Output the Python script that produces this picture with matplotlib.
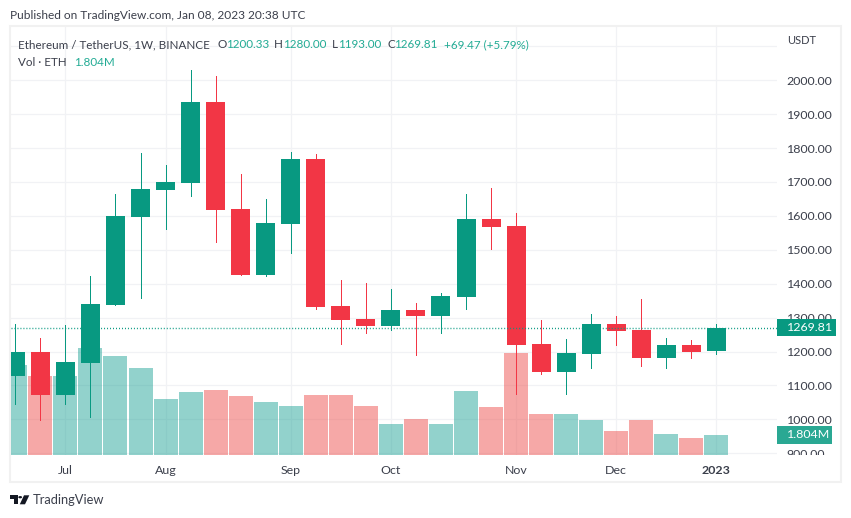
import matplotlib
matplotlib.use("Agg")
from matplotlib import pyplot as plt
from matplotlib.patches import Rectangle, Polygon, Circle
from matplotlib.transforms import Bbox, blended_transform_factory

# weekly candles
opens = [1128, 1199, 1072, 1167, 1337, 1598, 1677, 1697, 1936, 1620, 1426, 1576, 1768, 1335, 1296,
         1276, 1323, 1305, 1361, 1591, 1570, 1222, 1140, 1193, 1281, 1264, 1181, 1219, 1200.33]
highs = [1281, 1240, 1278, 1423, 1665, 1786, 1750, 2030, 2012, 1724, 1650, 1789, 1783, 1411, 1402,
         1385, 1343, 1373, 1665, 1682, 1609, 1293, 1237, 1311, 1305, 1356, 1240, 1234, 1280]
lows = [1045, 998, 1045, 1008, 1337, 1358, 1561, 1659, 1523, 1426, 1423, 1491, 1326, 1222, 1255,
        1264, 1190, 1255, 1326, 1503, 1075, 1134, 1075, 1152, 1219, 1158, 1152, 1181, 1193]
closes = [1199, 1072, 1169, 1340, 1600, 1679, 1700, 1936, 1618, 1426, 1579, 1768, 1332, 1293, 1276,
          1323, 1305, 1364, 1591, 1567, 1219, 1140, 1196, 1281, 1261, 1181, 1219, 1199, 1269.81]
# volume in millions of ETH
volumes = [8.1, 7.1, 7.1, 9.65, 8.9, 7.85, 5.05, 5.7, 5.85, 5.3, 4.8, 4.4, 5.4, 5.4, 4.4,
           2.8, 3.25, 2.8, 5.8, 4.35, 9.2, 3.7, 3.7, 3.15, 2.15, 3.15, 1.9, 1.55, 1.804]

month_pos = [2, 6, 11, 15, 20, 24, 28]
month_labels = ["Jul", "Aug", "Sep", "Oct", "Nov", "Dec", "2023"]
price_ticks = [900, 1000, 1100, 1200, 1300, 1400, 1500, 1600, 1700, 1800, 1900, 2000, 2100]
last_price = 1269.81
last_vol = 1.804

GREEN = "#089981"
RED = "#f23645"
VOL_GREEN = "#26a69a"
VOL_RED = "#ef5350"
GRID = "#f1f2f5"
TEXT = "#3b3f4b"
FONT = "Lato"

W, H = 851, 518
plt.rcParams["font.family"] = FONT
fig = plt.figure(figsize=(W / 100, H / 100), dpi=100)


def px_axes(x0, y0, x1, y1):
    # pixel box with y measured from the top of the picture
    return [x0 / W, 1 - y1 / H, (x1 - x0) / W, (y1 - y0) / H]


def fig_text(x, y, s, **kw):
    kw.setdefault("color", TEXT)
    kw.setdefault("fontsize", 8.35)
    kw.setdefault("va", "center")
    return fig.text(x / W, 1 - y / H, s, **kw)


ax = fig.add_axes(px_axes(11, 27, 777, 455))
ax.set_ylim(895, 2157)
ax.set_xlim((11 - 15.3) / 25.04, (777 - 15.3) / 25.04)
for s in ax.spines.values():
    s.set_visible(False)

# volume pane shares the same box
ax2 = ax.twinx()
ax2.set_ylim(0, 38.6)
ax2.set_zorder(1)
ax2.axis("off")

ax3 = ax.twinx()
ax3.set_ylim(ax.get_ylim())
ax3.set_zorder(2)
ax3.axis("off")

ax.set_axisbelow(True)
ax.grid(True, color=GRID, lw=0.9)
ax.set_xticks(month_pos)
ax.set_xticklabels(month_labels, fontsize=8.9, color=TEXT)
ax.get_xticklabels()[-1].set_fontweight("bold")
ax.tick_params(axis="x", length=0, pad=7)
# twinx moves the ticks to the left, so this has to come after it
ax.yaxis.tick_right()
ax.set_yticks(price_ticks)
ax.set_yticklabels(["%.2f" % p if p < 2100 else "" for p in price_ticks], fontsize=8.9, color=TEXT)
ax.tick_params(axis="y", length=0, pad=7)
for lab in ax.get_yticklabels():
    # 900.00 is cut off by the end of the pane
    lab.set_clip_on(True)
    lab.set_clip_box(Bbox.from_extents(777, H - 455, W, H))

xs = list(range(len(volumes)))
colors = [GREEN if c >= o else RED for o, c in zip(opens, closes)]
vol_colors = [VOL_GREEN if c >= o else VOL_RED for o, c in zip(opens, closes)]
ax2.bar(xs, volumes, width=24 / 25.04, color=vol_colors, alpha=0.5, linewidth=0, antialiased=False)

ax3.vlines(xs, lows, highs, colors=colors, lw=0.6, antialiased=False)
bottoms = [min(o, c) for o, c in zip(opens, closes)]
heights = [abs(c - o) for o, c in zip(opens, closes)]
ax3.bar(xs, heights, bottom=bottoms, width=19 / 25.04, color=colors, linewidth=0, antialiased=False)
ax3.axhline(last_price, color=GREEN, lw=1, ls=(0, (0.7, 1.45)))

# price and volume tags on the scale
t3 = blended_transform_factory(ax.transAxes, ax3.transData)
ax3.add_patch(Rectangle((1, last_price - 25), 59 / 766, 50, transform=t3, color=GREEN, lw=0,
                        clip_on=False, zorder=6))
ax3.text(1 + 10 / 766, last_price, "%.2f" % last_price, transform=t3, color="white", fontsize=8.9,
         va="center", zorder=7, clip_on=False)
t2 = blended_transform_factory(ax.transAxes, ax2.transData)
ax2.add_patch(Rectangle((1, last_vol - 0.77), 55 / 766, 1.54, transform=t2, color="#2aa893", lw=0,
                        clip_on=False, zorder=6))
ax2.text(1 + 10 / 766, last_vol, "%.3fM" % last_vol, transform=t2, color="white", fontsize=8.9,
         va="center", zorder=7, clip_on=False)

# pane frame
fig.add_artist(Rectangle((10 / W, 1 - 482 / H), 831 / W, 456 / H, transform=fig.transFigure,
                         fill=False, ec="#f1f1f1", lw=1.5))

# header and legend
fig_text(10, 15.5, "Published on TradingView.com, Jan 08, 2023 20:38 UTC", fontsize=8.55)
fig_text(18, 45, "Ethereum / TetherUS, 1W, BINANCE")
VAL = "#22ab94"
for x, s, c in [(217, "O", TEXT), (226, "1200.33", VAL), (274, "H", TEXT), (283, "1280.00", VAL),
                (332, "L", TEXT), (338.5, "1193.00", VAL), (387.5, "C", TEXT), (394.5, "1269.81", VAL),
                (444, "+69.47 (+5.79%)", VAL)]:
    fig_text(x, 45, s, color=c, fontsize=8.35)
fig_text(18, 63, "Vol \u00b7 ETH")
fig_text(74.5, 63, "1.804M", color=VAL)
fig_text(787, 40, "USDT", fontsize=8.0)

# logo and wordmark
fig_text(33, 500.5, "TradingView", fontsize=9.3)


def logo_pts(pts):
    return [(x / W, 1 - y / H) for x, y in pts]


fig.add_artist(Polygon(logo_pts([(10, 495.3), (17.7, 495.3), (17.7, 504.3), (13.8, 504.3), (13.8, 499), (10, 499)]),
                       transform=fig.transFigure, color="#131722", lw=0))
fig.add_artist(Polygon(logo_pts([(24, 495.3), (29.3, 495.3), (25, 504.3), (19.8, 504.3)]),
                       transform=fig.transFigure, color="#131722", lw=0))
fig.add_artist(Circle((20.2 / W, 1 - 497.2 / H), 1.9 / W, transform=fig.transFigure, color="#131722", lw=0))

fig.savefig("out.png", dpi=100)
